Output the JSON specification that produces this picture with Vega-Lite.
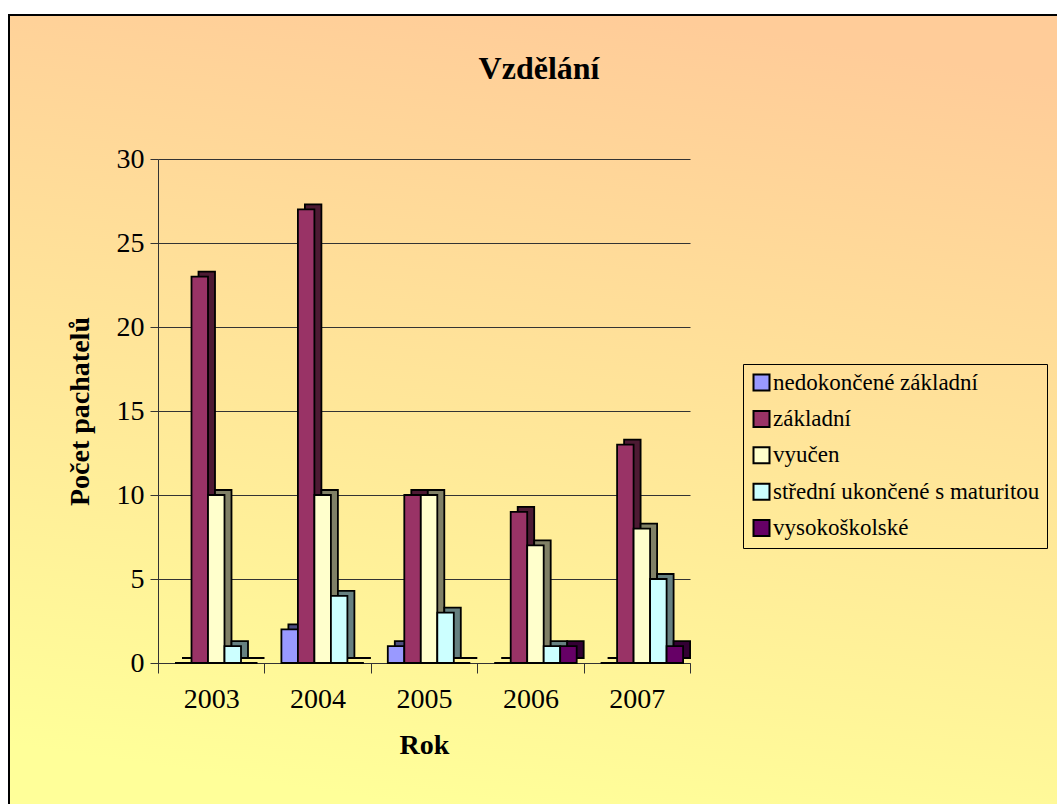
{
  "$schema": "https://vega.github.io/schema/vega-lite/v6.json",
  "width": 1052,
  "height": 793,
  "autosize": {"type": "none"},
  "padding": {"left": 9, "top": 15, "right": -4, "bottom": -4},
  "background": "white",
  "view": {
    "stroke": "black",
    "strokeWidth": 2,
    "fill": {"gradient": "linear", "x1": 0.6, "y1": 0, "x2": 0.4, "y2": 1,
      "stops": [{"offset": 0, "color": "#FFCC99"}, {"offset": 1, "color": "#FFFF99"}]}
  },
  "title": {
    "text": "Vzdělání",
    "font": "Liberation Serif",
    "fontSize": 32,
    "fontWeight": "bold",
    "color": "black",
    "anchor": "middle",
    "baseline": "alphabetic",
    "offset": -96,
    "dx": 4
  },
  "data": {
    "values": [
      {"rok": "2003", "vzdelani": "nedokončené základní", "pocet": 0},
      {"rok": "2003", "vzdelani": "základní", "pocet": 23},
      {"rok": "2003", "vzdelani": "vyučen", "pocet": 10},
      {"rok": "2003", "vzdelani": "střední ukončené s maturitou", "pocet": 1},
      {"rok": "2003", "vzdelani": "vysokoškolské", "pocet": 0},
      {"rok": "2004", "vzdelani": "nedokončené základní", "pocet": 2},
      {"rok": "2004", "vzdelani": "základní", "pocet": 27},
      {"rok": "2004", "vzdelani": "vyučen", "pocet": 10},
      {"rok": "2004", "vzdelani": "střední ukončené s maturitou", "pocet": 4},
      {"rok": "2004", "vzdelani": "vysokoškolské", "pocet": 0},
      {"rok": "2005", "vzdelani": "nedokončené základní", "pocet": 1},
      {"rok": "2005", "vzdelani": "základní", "pocet": 10},
      {"rok": "2005", "vzdelani": "vyučen", "pocet": 10},
      {"rok": "2005", "vzdelani": "střední ukončené s maturitou", "pocet": 3},
      {"rok": "2005", "vzdelani": "vysokoškolské", "pocet": 0},
      {"rok": "2006", "vzdelani": "nedokončené základní", "pocet": 0},
      {"rok": "2006", "vzdelani": "základní", "pocet": 9},
      {"rok": "2006", "vzdelani": "vyučen", "pocet": 7},
      {"rok": "2006", "vzdelani": "střední ukončené s maturitou", "pocet": 1},
      {"rok": "2006", "vzdelani": "vysokoškolské", "pocet": 1},
      {"rok": "2007", "vzdelani": "nedokončené základní", "pocet": 0},
      {"rok": "2007", "vzdelani": "základní", "pocet": 13},
      {"rok": "2007", "vzdelani": "vyučen", "pocet": 8},
      {"rok": "2007", "vzdelani": "střední ukončené s maturitou", "pocet": 5},
      {"rok": "2007", "vzdelani": "vysokoškolské", "pocet": 1}
    ]
  },
  "encoding": {
    "x": {
      "field": "rok",
      "type": "nominal",
      "scale": {"range": [149, 681], "paddingInner": 0, "paddingOuter": 0},
      "axis": {
        "orient": "bottom",
        "offset": -145,
        "tickBand": "extent",
        "tickSize": 10,
        "tickColor": "#333333",
        "domainColor": "#333333",
        "domainWidth": 1,
        "labelAngle": 0,
        "labelPadding": 12,
        "labelFont": "Liberation Serif",
        "labelFontSize": 28,
        "labelColor": "black",
        "title": "Rok",
        "titleFont": "Liberation Serif",
        "titleFontSize": 28,
        "titleFontWeight": "bold",
        "titleColor": "black",
        "titleBaseline": "alphabetic",
        "titleY": 90
      }
    },
    "y": {
      "field": "pocet",
      "type": "quantitative",
      "scale": {"domain": [0, 30], "range": [648, 144], "nice": false, "zero": true},
      "axis": {
        "orient": "left",
        "offset": -149,
        "values": [0, 5, 10, 15, 20, 25, 30],
        "grid": true,
        "gridColor": "#333333",
        "gridWidth": 1,
        "gridOpacity": 1,
        "tickSize": 8,
        "tickColor": "#333333",
        "domainColor": "#333333",
        "domainWidth": 1,
        "labelPadding": 6,
        "labelFont": "Liberation Serif",
        "labelFontSize": 28,
        "labelColor": "black",
        "title": "Počet pachatelů",
        "titleFont": "Liberation Serif",
        "titleFontSize": 28,
        "titleFontWeight": "bold",
        "titleColor": "black",
        "titleBaseline": "alphabetic",
        "titleX": -70
      }
    }
  },
  "layer": [
    {
      "mark": {"type": "bar", "yOffset": -5, "stroke": "black", "strokeWidth": 1.8},
      "encoding": {
        "xOffset": {
          "field": "vzdelani",
          "type": "nominal",
          "sort": ["nedokončené základní", "základní", "vyučen", "střední ukončené s maturitou", "vysokoškolské"],
          "scale": {"domain": ["nedokončené základní", "základní", "vyučen", "střední ukončené s maturitou", "vysokoškolské"], "range": [24, 106.5], "paddingInner": 0, "paddingOuter": 0}
        },
        "color": {
          "field": "vzdelani",
          "type": "nominal",
          "scale": {"domain": ["nedokončené základní", "základní", "vyučen", "střední ukončené s maturitou", "vysokoškolské"], "range": ["#4D4D80", "#4D1A33", "#808066", "#668080", "#330033"]},
          "legend": null
        }
      }
    },
    {
      "mark": {"type": "bar", "stroke": "black", "strokeWidth": 1.8},
      "encoding": {
        "xOffset": {
          "field": "vzdelani",
          "type": "nominal",
          "sort": ["nedokončené základní", "základní", "vyučen", "střední ukončené s maturitou", "vysokoškolské"],
          "scale": {"domain": ["nedokončené základní", "základní", "vyučen", "střední ukončené s maturitou", "vysokoškolské"], "range": [17, 99.5], "paddingInner": 0, "paddingOuter": 0}
        },
        "color": {
          "field": "vzdelani",
          "type": "nominal",
          "scale": {"domain": ["nedokončené základní", "základní", "vyučen", "střední ukončené s maturitou", "vysokoškolské"], "range": ["#9999FF", "#993366", "#FFFFCC", "#CCFFFF", "#660066"]},
          "legend": {
            "orient": "none",
            "legendX": 734,
            "legendY": 349,
            "title": null,
            "padding": 7,
            "strokeColor": "black",
            "symbolType": "square",
            "symbolSize": 256,
            "symbolStrokeColor": "black",
            "symbolStrokeWidth": 2,
            "symbolOpacity": 1,
            "rowPadding": 11.4,
            "labelOffset": 0,
            "labelFont": "Liberation Serif",
            "labelFontSize": 23,
            "labelColor": "black",
            "labelLimit": 400
          }
        }
      }
    }
  ],
  "resolve": {"scale": {"color": "independent", "xOffset": "independent"}}
}
